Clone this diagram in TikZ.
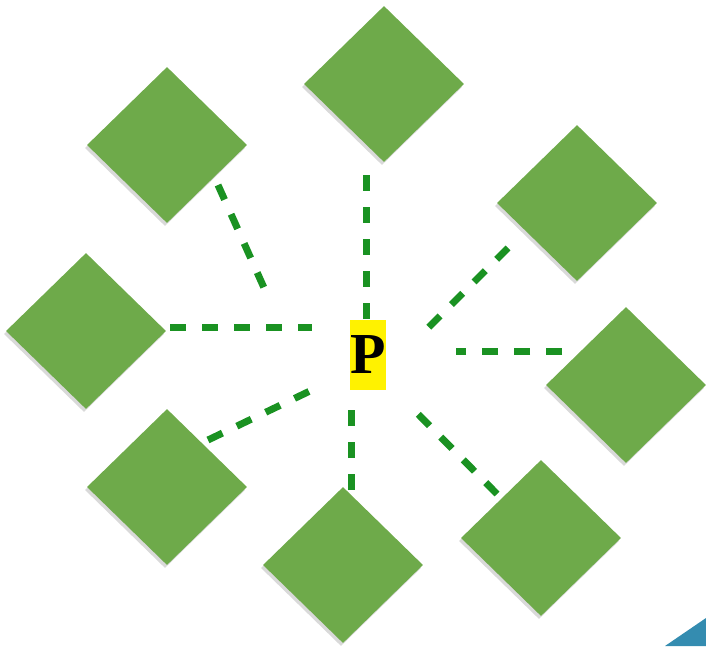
\documentclass[tikz,border=0pt]{standalone}
\usepackage{fontspec}
\setmainfont{Liberation Serif}
\usetikzlibrary{shapes.geometric,shadows}
\definecolor{leafgreen}{RGB}{110,170,74}
\definecolor{linkgreen}{RGB}{26,146,34}
\definecolor{cornerblue}{RGB}{52,140,176}
\tikzset{
  leaf/.style={diamond, aspect=1, inner sep=0pt, minimum width=160pt, minimum height=156pt,
    fill=leafgreen, draw=none,
    drop shadow={shadow xshift=-2pt, shadow yshift=-3pt, opacity=0.25, fill=black!60}},
  link/.style={linkgreen, line width=7pt, dash pattern=on 16pt off 16pt},
  hub/.style={fill=yellow, inner sep=0pt, minimum width=36pt, minimum height=70pt,
    font=\fontsize{58}{60}\selectfont\bfseries}
}
\begin{document}
\begin{tikzpicture}[x=1pt,y=-1pt]
            \useasboundingbox (0,0) rectangle (706,646);

            % Blue corner piece
            \fill[cornerblue] (665,646) -- (706,618) -- (706,646) -- cycle;

            % Green diamonds around P
            \node[leaf] (topleft) at (167,145) {};
            \node[leaf] (top) at (384,84) {};
            \node[leaf] (upright) at (577,203) {};
            \node[leaf] (left) at (86,331) {};
            \node[leaf] (right) at (626,385) {};
            \node[leaf] (lowleft) at (167,487) {};
            \node[leaf] (bottom) at (343,565) {};
            \node[leaf] (lowright) at (541,538) {};

            % Centre P
            \node[hub] (P) at (368,355) {P};

            % Ends of the dashed links
            \coordinate (a1) at (218,185);  \coordinate (b1) at (265,290);
            \coordinate (a2) at (366,175);  \coordinate (b2) at (366,320);
            \coordinate (a3) at (508,248);  \coordinate (b3) at (428,328);
            \coordinate (a4) at (170,327);  \coordinate (b4) at (312,327);
            \coordinate (a5) at (562,351);  \coordinate (b5) at (456,351);
            \coordinate (a6) at (208,440);  \coordinate (b6) at (312,390);
            \coordinate (a7) at (351,490);  \coordinate (b7) at (351,408);
            \coordinate (a8) at (497,494);  \coordinate (b8) at (416,412);

            % Dashed links
            \foreach \i in {1,...,8}
              \draw[link] (a\i) -- (b\i);
        \end{tikzpicture}
\end{document}
